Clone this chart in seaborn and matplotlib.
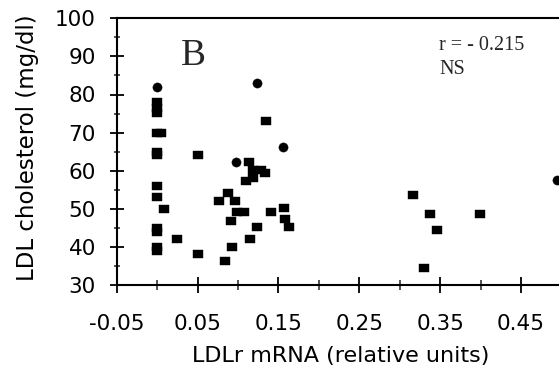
import matplotlib
matplotlib.use("Agg")
import matplotlib.pyplot as plt
from matplotlib.path import Path
import seaborn as sns
import pandas as pd

# ---- data ----
sq_x = [0.0, 0.0, 0.0, 0.0, 0.005, 0.0, 0.0, 0.0, 0.0, 0.009, 0.0, 0.0, 0.0, 0.0,
        0.025, 0.05, 0.05,
        0.135, 0.113, 0.119, 0.129, 0.133, 0.118, 0.110,
        0.088, 0.076, 0.096, 0.099, 0.107, 0.091, 0.141, 0.157, 0.158, 0.163,
        0.124, 0.115, 0.092, 0.084,
        0.317, 0.338, 0.346, 0.330, 0.399]
sq_y = [78, 76.5, 75.2, 70, 70, 65, 64, 56, 53, 50, 45, 44, 40, 39,
        42.1, 64.1, 38.1,
        73.1, 62.4, 60.3, 60.3, 59.3, 58.2, 57.4,
        54.2, 52.1, 52.1, 49.2, 49.2, 46.9, 49.2, 50.1, 47.2, 45.1,
        45.1, 42.2, 40.0, 36.3,
        53.5, 48.6, 44.4, 34.5, 48.6]
ci_x = [0.0, 0.124, 0.156, 0.097, 0.494]
ci_y = [82, 83, 66.2, 62.2, 57.6]

x_ticks = [-0.05, 0.05, 0.15, 0.25, 0.35, 0.45]
x_ticklabels = ["-0.05", "0.05", "0.15", "0.25", "0.35", "0.45"]
x_minor = [0.0, 0.1, 0.2, 0.3, 0.4]
y_ticks = [30, 40, 50, 60, 70, 80, 90, 100]
y_minor = [35, 45, 55, 65, 75, 85, 95]

df_sq = pd.DataFrame({"x": sq_x, "y": sq_y})
df_ci = pd.DataFrame({"x": ci_x, "y": ci_y})

sns.set_style("white")
plt.rcParams["font.family"] = ["DejaVu Sans"]

W, H = 559, 369
fig = plt.figure(figsize=(W / 100, H / 100), dpi=100)
left, right, top, bottom = 116.7, 559.5, 18.3, 285.0
ax = fig.add_axes([left / W, 1 - bottom / H, (right - left) / W, (bottom - top) / H])

rect = Path([(-1, -0.75), (1, -0.75), (1, 0.75), (-1, 0.75), (-1, -0.75)],
            [Path.MOVETO, Path.LINETO, Path.LINETO, Path.LINETO, Path.CLOSEPOLY])

sns.scatterplot(data=df_sq, x="x", y="y", ax=ax, marker=rect, s=52,
                color="black", edgecolor="black", linewidth=0.3, clip_on=True)
sns.scatterplot(data=df_ci, x="x", y="y", ax=ax, marker="o", s=44,
                color="black", edgecolor="black", linewidth=0.3, clip_on=True)

ax.set_xlim(-0.05, 0.4976)
ax.set_ylim(30, 100)

ax.set_xticks(x_ticks, x_ticklabels)
ax.set_xticks(x_minor, minor=True)
ax.set_yticks(y_ticks, [str(v) for v in y_ticks])
ax.set_yticks(y_minor, minor=True)

for s in ["left", "bottom", "top"]:
    ax.spines[s].set_linewidth(1.5)
    ax.spines[s].set_color("black")
ax.spines["right"].set_visible(False)

ax.tick_params(axis="x", which="major", direction="inout", length=12, width=1.3,
               labelsize=15.5, pad=15, colors="black", bottom=True, top=False)
ax.tick_params(axis="x", which="minor", direction="inout", length=7, width=1.1,
               bottom=True, top=False)
ax.tick_params(axis="y", which="major", direction="inout", length=10, width=1.3,
               labelsize=15.5, pad=10, colors="black", left=True)
ax.tick_params(axis="y", which="minor", direction="inout", length=5, width=1.1, left=True)

ax.set_xlabel("LDLr mRNA (relative units)", fontsize=16, color="black")
ax.set_ylabel("LDL cholesterol (mg/dl)", fontsize=16.5, color="black")
ax.xaxis.set_label_coords((341 - left) / (right - left), (bottom - 356) / (bottom - top))
ax.yaxis.set_label_coords((28 - left) / (right - left), (bottom - 148) / (bottom - top))
ax.xaxis.label.set_va("center")
ax.yaxis.label.set_va("center")

fig.text(180.7 / W, 1 - 65 / H, "B", fontsize=27, family="Liberation Serif",
         ha="left", va="baseline")
fig.text(439 / W, 1 - 50.5 / H, "r = - 0.215", fontsize=14.5, family="Liberation Serif",
         ha="left", va="baseline")
fig.text(439 / W, 1 - 74 / H, "NS", fontsize=14.5, family="Liberation Serif",
         ha="left", va="baseline")

fig.savefig("out.png", dpi=100)
